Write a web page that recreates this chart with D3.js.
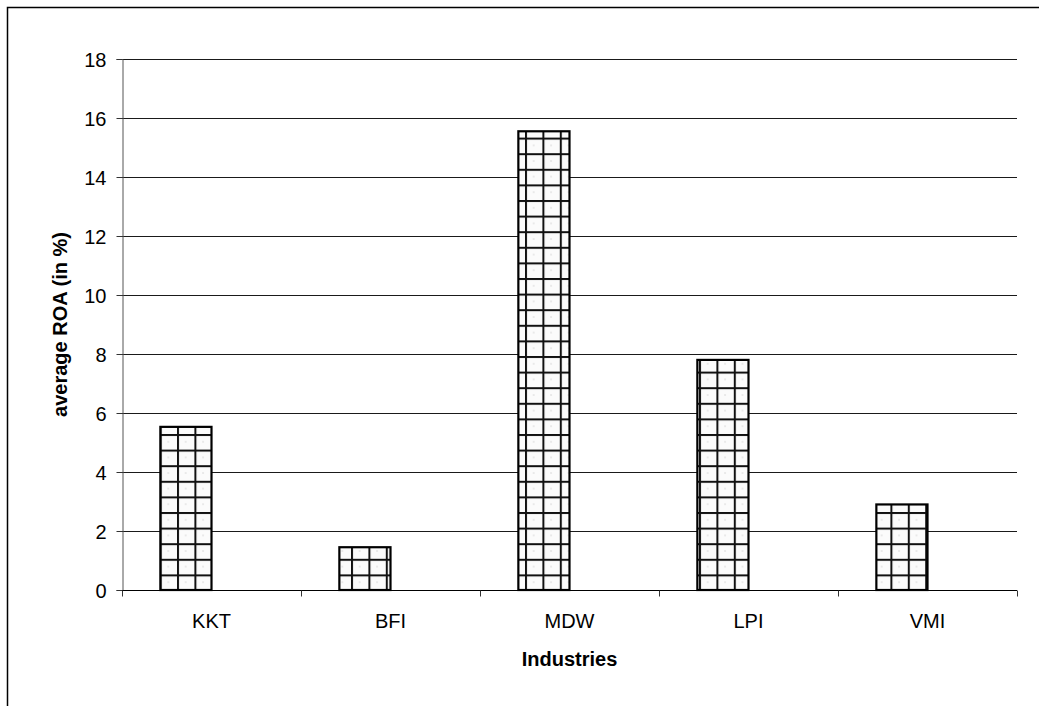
<!DOCTYPE html>
<html>
<head>
<meta charset="utf-8">
<script src="https://cdn.jsdelivr.net/npm/d3@7"></script>
<style>
  html, body { margin: 0; padding: 0; background: #fff; }
  svg { display: block; }
  text { font-family: "Liberation Sans", Arial, sans-serif; fill: #000; }
</style>
</head>
<body>
<svg id="chart" width="1039" height="706"></svg>
<script>
// Average return on assets by industry
const industries = ["KKT", "BFI", "MDW", "LPI", "VMI"];
const roaValues = [5.53, 1.45, 15.55, 7.8, 2.9];
const yTicks = [0, 2, 4, 6, 8, 10, 12, 14, 16, 18];
const yTitle = "average ROA (in %)";
const xTitle = "Industries";

const W = 1039, H = 706;
const plot = { left: 122, right: 1017, top: 59, bottom: 590 };

const svg = d3.select("#chart");

// outer frame (top and left edges visible)
svg.append("path")
  .attr("d", `M7.5,${H + 2} L7.5,7.5 L${W + 2},7.5`)
  .attr("fill", "none").attr("stroke", "#000").attr("stroke-width", 1.5);

const x = d3.scaleBand().domain(industries).range([plot.left, plot.right]).paddingInner(0).paddingOuter(0);
const y = d3.scaleLinear().domain([0, 18]).range([plot.bottom, plot.top]);

// grid pattern used as bar fill
const defs = svg.append("defs");
const pw = 17.4, ph = 15.6;
const pat = defs.append("pattern")
  .attr("id", "gridfill")
  .attr("patternUnits", "userSpaceOnUse")
  .attr("width", pw).attr("height", ph)
  .attr("x", 3).attr("y", plot.bottom);
pat.append("rect").attr("width", pw).attr("height", ph).attr("fill", "#fbfbfb");
pat.append("circle").attr("cx", pw * 0.5).attr("cy", ph * 0.5).attr("r", 0.7).attr("fill", "#d0d0d0");
pat.append("line").attr("x1", 0).attr("x2", pw).attr("y1", 1).attr("y2", 1)
  .attr("stroke", "#111").attr("stroke-width", 2);
pat.append("line").attr("x1", 1).attr("x2", 1).attr("y1", 0).attr("y2", ph)
  .attr("stroke", "#111").attr("stroke-width", 2);

// horizontal gridlines
svg.append("g")
  .selectAll("line")
  .data(yTicks.filter(d => d > 0))
  .join("line")
  .attr("x1", plot.left).attr("x2", plot.right)
  .attr("y1", d => Math.round(y(d)) + 0.5).attr("y2", d => Math.round(y(d)) + 0.5)
  .attr("stroke", "#1a1a1a").attr("stroke-width", 1);

// bars: first slot of each category group (gap width 150%)
const slot = x.bandwidth() / 3.5;
svg.append("g")
  .selectAll("rect")
  .data(industries.map((c, i) => ({ c, v: roaValues[i] })))
  .join("rect")
  .attr("x", d => x(d.c) + slot * 0.75)
  .attr("width", slot)
  .attr("y", d => y(d.v))
  .attr("height", d => y(0) - y(d.v))
  .attr("fill", "url(#gridfill)")
  .attr("stroke", "#000").attr("stroke-width", 2.2);

// y axis
const yAxis = svg.append("g")
  .attr("transform", `translate(${plot.left + 0.5},0)`)
  .call(d3.axisLeft(y).tickValues(yTicks).tickSize(6).tickPadding(10).tickFormat(d3.format("d")));
yAxis.select(".domain").attr("stroke", "#555");
yAxis.selectAll(".tick line").attr("stroke", "#333");
yAxis.selectAll("text").style("font-size", "20px").attr("dy", "0.35em");

// x axis with tick marks at category boundaries
const xAxisG = svg.append("g").attr("transform", `translate(0,${Math.round(plot.bottom) + 0.5})`);
xAxisG.append("line").attr("x1", plot.left).attr("x2", plot.right)
  .attr("stroke", "#000").attr("stroke-width", 1);
const bounds = industries.map(c => x(c)).concat([plot.right]);
xAxisG.selectAll("line.bnd").data(bounds).join("line").attr("class", "bnd")
  .attr("x1", d => Math.round(d) + 0.5).attr("x2", d => Math.round(d) + 0.5)
  .attr("y1", 0).attr("y2", 6).attr("stroke", "#333");
xAxisG.selectAll("text").data(industries).join("text")
  .attr("x", d => x(d) + x.bandwidth() / 2)
  .attr("y", 37)
  .attr("text-anchor", "middle")
  .style("font-size", "20px")
  .text(d => d);

// axis titles
svg.append("text")
  .attr("x", (plot.left + plot.right) / 2)
  .attr("y", 666)
  .attr("text-anchor", "middle")
  .style("font-size", "20px").style("font-weight", "bold")
  .text(xTitle);

svg.append("text")
  .attr("transform", `translate(67,${(plot.top + plot.bottom) / 2}) rotate(-90)`)
  .attr("text-anchor", "middle")
  .style("font-size", "20px").style("font-weight", "bold")
  .text(yTitle);
</script>
</body>
</html>
